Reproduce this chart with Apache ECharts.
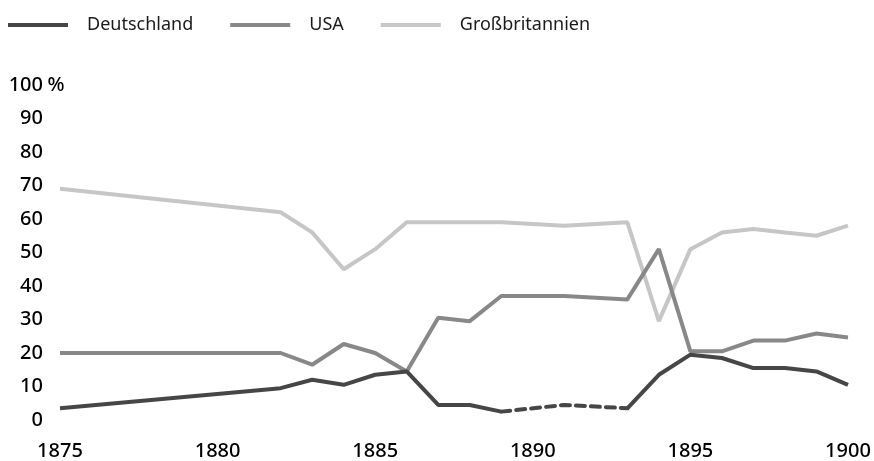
<!DOCTYPE html>
<html lang="de">
<head>
    <meta charset="UTF-8">
    <title>Anteile</title>
    <script src="https://cdn.jsdelivr.net/npm/echarts@6/dist/echarts.min.js"></script>
    <style>
        html, body { margin: 0; padding: 0; background: #fff; }
        #main { width: 874px; height: 461px; }
    </style>
</head>
<body>
<div id="main"></div>

<script type="text/javascript">
    // Jahre und Anteile in Prozent
    var years       = [1875, 1882, 1883, 1884, 1885, 1886, 1887, 1888, 1889, 1891, 1893, 1894, 1895, 1896, 1897, 1898, 1899, 1900];
    var deutschland = [3.5, 9.5, 12, 10.5, 13.5, 14.5, 4.5, 4.5, 2.5, 4.5, 3.5, 13.5, 19.5, 18.5, 15.5, 15.5, 14.5, 10.5];
    var usa         = [20, 20, 16.5, 22.7, 20, 14.5, 30.5, 29.5, 37, 37, 36, 51, 20.5, 20.5, 23.7, 23.7, 25.8, 24.6];
    var gb          = [69, 62, 56, 45, 51, 59, 59, 59, 59, 58, 59, 29.5, 51, 56, 57, 56, 55, 58];
    // Zeitraum, in dem die Linie für Deutschland gestrichelt ist
    var dashedFrom = 1889, dashedTo = 1893;
    var xTicks = [1875, 1880, 1885, 1890, 1895, 1900];
    var yTicks = [0, 10, 20, 30, 40, 50, 60, 70, 80, 90, 100];

    var cDe = '#464646', cUsa = '#888888', cGb = '#c6c6c6';
    var font = '"Noto Sans", "Open Sans", sans-serif';

    function pairs(vals) {
        return years.map(function (y, i) { return [y, vals[i]]; });
    }

    var deSolid = years.map(function (y, i) {
        return [y, (y > dashedFrom && y < dashedTo) ? '-' : deutschland[i]];
    });
    var deDashed = years.map(function (y, i) {
        return [y, (y >= dashedFrom && y <= dashedTo) ? deutschland[i] : '-'];
    });

    var myChart = echarts.init(document.getElementById('main'));
    var option = {
        animation: false,
        legend: {
            data: ['Deutschland', 'USA', 'Großbritannien'],
            icon: 'rect',
            left: 3,
            top: 11,
            itemWidth: 60,
            itemHeight: 4,
            itemGap: 37,
            textStyle: {
                fontFamily: font,
                fontSize: 18,
                color: '#1a1a1a',
                padding: [0, 0, 0, 14]
            }
        },
        grid: {
            left: 60,
            right: 26,
            top: 85,
            bottom: 36
        },
        xAxis: {
            type: 'value',
            min: xTicks[0],
            max: xTicks[xTicks.length - 1],
            interval: 5,
            axisLine: { show: false },
            axisTick: { show: false },
            splitLine: { show: false },
            axisLabel: {
                margin: 21,
                fontFamily: font,
                fontSize: 20,
                fontWeight: 500,
                color: '#000',
                formatter: function (v) { return String(v); }
            }
        },
        yAxis: {
            type: 'value',
            min: yTicks[0],
            max: yTicks[yTicks.length - 1],
            interval: 10,
            axisLine: { show: false },
            axisTick: { show: false },
            splitLine: { show: false },
            axisLabel: {
                margin: -4,
                formatter: function (v) {
                    return '{n|' + v + '}{p|' + (v === 100 ? ' %' : '') + '}';
                },
                rich: {
                    n: { fontFamily: font, fontSize: 20, fontWeight: 500, color: '#000' },
                    p: { fontFamily: font, fontSize: 20, fontWeight: 500, color: '#000', width: 21, align: 'left' }
                }
            }
        },
        series: [
            {
                name: 'Großbritannien',
                type: 'line',
                data: pairs(gb),
                symbol: 'none',
                color: cGb,
                lineStyle: { width: 4, color: cGb }
            },
            {
                name: 'USA',
                type: 'line',
                data: pairs(usa),
                symbol: 'none',
                color: cUsa,
                lineStyle: { width: 4, color: cUsa }
            },
            {
                name: 'Deutschland',
                type: 'line',
                data: deSolid,
                symbol: 'none',
                connectNulls: false,
                color: cDe,
                lineStyle: { width: 4, color: cDe }
            },
            {
                name: 'Deutschland',
                type: 'line',
                data: deDashed,
                symbol: 'none',
                connectNulls: false,
                color: cDe,
                lineStyle: { width: 4, color: cDe, type: [9, 6], cap: 'round' }
            }
        ]
    };
    myChart.setOption(option);
</script>
</body>
</html>
